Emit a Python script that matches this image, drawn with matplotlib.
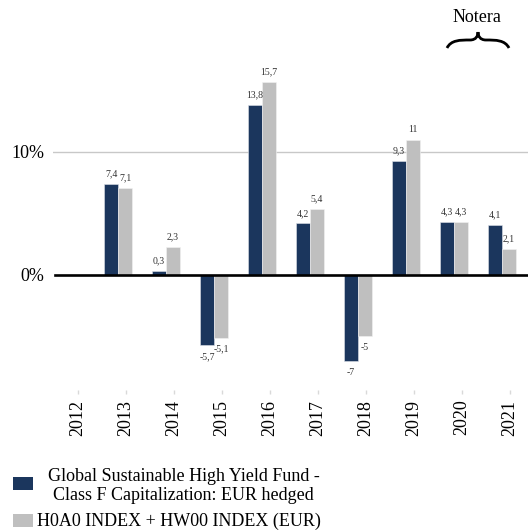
import numpy as np
import matplotlib
matplotlib.use("Agg")
import matplotlib.pyplot as plt
from matplotlib.patches import Rectangle, PathPatch
from matplotlib.path import Path

years = ["2012", "2013", "2014", "2015", "2016", "2017", "2018", "2019", "2020", "2021"]
fund = [np.nan, 7.4, 0.3, -5.7, 13.8, 4.2, -7.0, 9.3, 4.3, 4.1]
index = [np.nan, 7.1, 2.3, -5.1, 15.7, 5.4, -5.0, 11.0, 4.3, 2.1]
fund_label = "Global Sustainable High Yield Fund -\nClass F Capitalization: EUR hedged"
index_label = "H0A0 INDEX + HW00 INDEX (EUR)"
ytick_vals = [0, 10]
ytick_labels = ["0%", "10%"]

DARK = "#1b365d"
GRAY = "#bfbfbf"
SERIF = ["Liberation Serif", "DejaVu Serif"]
plt.rcParams["font.family"] = SERIF

W, H = 528, 530
fig = plt.figure(figsize=(W / 100, H / 100), dpi=100)
ax = fig.add_axes([53 / W, (H - 390) / H, 1 - 53 / W, (390 - 29) / H])

x = np.arange(len(years))
bw = 0.29
f = np.array(fund)
g = np.array(index)
mf = ~np.isnan(f)
mg = ~np.isnan(g)
b1 = ax.bar(x[mf] - 0.31, f[mf], bw, color=DARK, edgecolor="#dfe3ea", linewidth=0.4, zorder=3)
b2 = ax.bar(x[mg] - 0.02, g[mg], bw, color=GRAY, edgecolor="#f2f2f2", linewidth=0.4, zorder=3)

def fmt(v):
    return f"{v:g}".replace(".", ",")

for bars, vals in ((b1, f[mf]), (b2, g[mg])):
    for r, v in zip(bars, vals):
        cx = r.get_x() + r.get_width() / 2
        off = 4 if v >= 0 else -5
        ax.annotate(fmt(v), (cx, v), xytext=(0, off), textcoords="offset points",
                    ha="center", va="bottom" if v >= 0 else "top",
                    fontsize=7, color="#333333")

ax.axhline(10, color="#c8c8c8", lw=1, zorder=1)
ax.axhline(0, color="black", lw=1.9, zorder=4, xmin=0.004)

ax.set_xlim(-0.52, 9.375)
ax.set_ylim(-9.35, 20)
ax.set_xticks(x)
ax.set_xticklabels(years, rotation=90, fontsize=13)
ax.set_yticks(ytick_vals)
ax.set_yticklabels(ytick_labels, fontsize=13)
ax.tick_params(axis="x", length=3, color="#d9d9d9", width=1, pad=4)
ax.tick_params(axis="y", length=0, pad=6)
for s in ax.spines.values():
    s.set_visible(False)

# legend (manual)
fig.patches.append(Rectangle((13 / W, (H - 490) / H), 20 / W, 13 / H, transform=fig.transFigure,
                             facecolor=DARK, edgecolor="none"))
fig.patches.append(Rectangle((13 / W, (H - 527) / H), 20 / W, 13 / H, transform=fig.transFigure,
                             facecolor=GRAY, edgecolor="none"))
fig.text(183.5 / W, (H - 486) / H, fund_label, ha="center", va="center", fontsize=13,
         multialignment="center", linespacing=1.2)
fig.text(37 / W, (H - 521) / H, index_label, ha="left", va="center", fontsize=13)

# Notera annotation with brace
fig.text(477 / W, (H - 18) / H, "Notera", ha="center", va="center", fontsize=13)
def P(px, py):
    return (px / W, (H - py) / H)
verts = [P(447, 48), P(451, 40), P(460, 40), P(470, 40),
         P(476, 40), P(478, 36), P(478, 32),
         P(478, 36), P(480, 40), P(486, 40),
         P(496, 40), P(505, 40), P(509, 48)]
codes = [Path.MOVETO, Path.CURVE4, Path.CURVE4, Path.CURVE4,
         Path.CURVE4, Path.CURVE4, Path.CURVE4,
         Path.CURVE4, Path.CURVE4, Path.CURVE4,
         Path.CURVE4, Path.CURVE4, Path.CURVE4]
fig.patches.append(PathPatch(Path(verts, codes), transform=fig.transFigure,
                             facecolor="none", edgecolor="black", lw=2.0))

fig.savefig("out.png", dpi=100)
